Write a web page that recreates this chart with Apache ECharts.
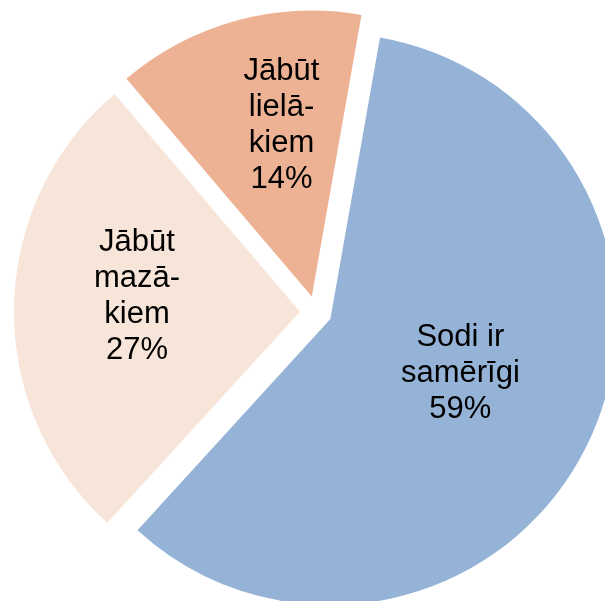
<!DOCTYPE html>
<html>
<head>
<meta charset="utf-8">
<script src="https://cdn.jsdelivr.net/npm/echarts@6/dist/echarts.min.js"></script>
<style>
  html, body { margin: 0; padding: 0; background: #fff; }
  #main { width: 605px; height: 601px; }
</style>
</head>
<body>
<div id="main"></div>
<script>
// slice data, clockwise from the top
const categories = ['Sodi ir\nsamērīgi', 'Jābūt\nmazā-\nkiem', 'Jābūt\nlielā-\nkiem'];
const values = [59, 27, 14];
const colors = ['#95B3D7', '#F8E5D9', '#ECB293'];
// nudges so labels sit where the original ones do
const labelShift = [[-1, -10], [-17, -13], [8, -30]];

const chartDom = document.getElementById('main');
const myChart = echarts.init(chartDom);

const option = {
  animation: false,
  series: [
    {
      type: 'pie',
      center: [316, 312],
      radius: 286,
      startAngle: 80,
      clockwise: true,
      selectedMode: 'multiple',
      selectedOffset: 16,
      label: {
        show: true,
        position: 'inside',
        color: '#000',
        fontFamily: 'Liberation Sans, Arial, sans-serif',
        fontSize: 31,
        lineHeight: 36,
        align: 'center',
        formatter: p => p.name + '\n' + p.value + '%'
      },
      labelLayout: params => ({
        dx: labelShift[params.dataIndex][0],
        dy: labelShift[params.dataIndex][1]
      }),
      labelLine: { show: false },
      emphasis: { disabled: true },
      data: categories.map((name, i) => ({
        name: name,
        value: values[i],
        selected: true,
        itemStyle: { color: colors[i] }
      }))
    }
  ]
};

myChart.setOption(option);
</script>
</body>
</html>
